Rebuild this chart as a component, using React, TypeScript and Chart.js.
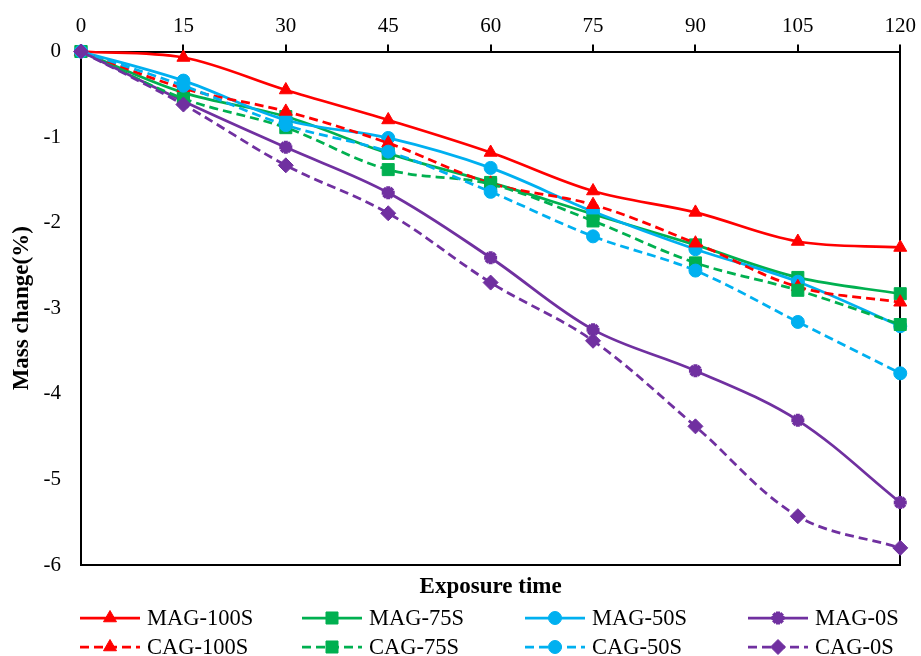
import React, { useEffect, useRef } from "react";
import { Chart, registerables } from "chart.js";
import { drawPoint } from "chart.js/helpers";

Chart.register(...registerables);

// Exposure time (x) and mass change in % (y) for each mix
const exposureTime = [0, 15, 30, 45, 60, 75, 90, 105, 120];
const xTicks = [0, 15, 30, 45, 60, 75, 90, 105, 120];
const yTicks = [0, -1, -2, -3, -4, -5, -6];

const mag100S = [0, -0.07, -0.45, -0.8, -1.18, -1.63, -1.88, -2.22, -2.29];
const mag75S = [0, -0.48, -0.76, -1.19, -1.53, -1.9, -2.26, -2.64, -2.83];
const mag50S = [0, -0.34, -0.8, -1.01, -1.36, -1.87, -2.31, -2.69, -3.21];
const mag0S = [0, -0.58, -1.12, -1.65, -2.41, -3.25, -3.73, -4.31, -5.27];
const cag100S = [0, -0.43, -0.7, -1.07, -1.54, -1.79, -2.24, -2.75, -2.93];
const cag75S = [0, -0.55, -0.89, -1.38, -1.55, -1.98, -2.47, -2.79, -3.19];
const cag50S = [0, -0.4, -0.86, -1.17, -1.64, -2.16, -2.56, -3.16, -3.76];
const cag0S = [0, -0.62, -1.33, -1.89, -2.7, -3.38, -4.38, -5.43, -5.8];

const seriesNames = [
  "MAG-100S",
  "MAG-75S",
  "MAG-50S",
  "MAG-0S",
  "CAG-100S",
  "CAG-75S",
  "CAG-50S",
  "CAG-0S",
];
const seriesValues = [mag100S, mag75S, mag50S, mag0S, cag100S, cag75S, cag50S, cag0S];

const RED = "#FF0000";
const GREEN = "#00B050";
const CYAN = "#00B0F0";
const PURPLE = "#7030A0";
const seriesColors = [RED, GREEN, CYAN, PURPLE, RED, GREEN, CYAN, PURPLE];
const seriesMarkers = ["triangle", "rect", "circle", "star", "triangle", "rect", "circle", "rectRot"];
const markerRadius: Record<string, number> = { triangle: 7.5, rect: 8.5, circle: 6.5, star: 6.5, rectRot: 7.5 };

const SERIF = "'Liberation Serif', 'Times New Roman', serif";
const DASH = [9, 5];

// Legend laid out as two rows of four entries under the axis title
const legendColumns = [80, 302, 525, 748];
const legendRows = [618, 647];
const legendLineLength = 60;
const legendTextGap = 7;

const legendPlugin = {
  id: "lineMarkerLegend",
  afterDraw(chart: any) {
    const ctx = chart.ctx as CanvasRenderingContext2D;
    chart.data.datasets.forEach((ds: any, i: number) => {
      const x0 = legendColumns[i % 4];
      const y = legendRows[Math.floor(i / 4)];
      ctx.save();
      ctx.strokeStyle = ds.borderColor;
      ctx.lineWidth = ds.borderWidth;
      ctx.setLineDash(ds.borderDash || []);
      ctx.beginPath();
      ctx.moveTo(x0, y);
      ctx.lineTo(x0 + legendLineLength, y);
      ctx.stroke();
      ctx.setLineDash([]);
      ctx.fillStyle = ds.pointBackgroundColor;
      ctx.strokeStyle = ds.pointBorderColor;
      ctx.lineWidth = ds.pointBorderWidth;
      drawPoint(
        ctx,
        { pointStyle: ds.pointStyle, radius: ds.pointRadius, rotation: 0, borderWidth: ds.pointBorderWidth },
        x0 + legendLineLength / 2,
        y
      );
      ctx.fillStyle = "#000";
      ctx.font = `22.5px ${SERIF}`;
      ctx.textAlign = "left";
      ctx.textBaseline = "middle";
      ctx.fillText(ds.label, x0 + legendLineLength + legendTextGap, y + 1);
      ctx.restore();
    });
  },
};

export default function App() {
  const canvasRef = useRef<HTMLCanvasElement | null>(null);

  useEffect(() => {
    const canvas = canvasRef.current;
    if (!canvas) return;

    const datasets = seriesNames.map((name, i) => {
      const marker = seriesMarkers[i];
      const dashed = i >= 4;
      return {
        label: name,
        data: exposureTime.map((t, k) => ({ x: t, y: seriesValues[i][k] })),
        borderColor: seriesColors[i],
        backgroundColor: seriesColors[i],
        borderWidth: 2.75,
        borderDash: dashed ? DASH : [],
        tension: 0.35,
        pointStyle: marker,
        pointRadius: markerRadius[marker],
        pointBackgroundColor: seriesColors[i],
        pointBorderColor: seriesColors[i],
        pointBorderWidth: marker === "star" ? 4 : 1,
        clip: false as any,
        order: seriesNames.length - 1 - i,
      };
    });

    const chart = new Chart(canvas, {
      type: "line",
      data: { datasets },
      plugins: [legendPlugin],
      options: {
        responsive: false,
        animation: false,
        events: [],
        layout: { padding: { left: 0, right: 0, top: 0, bottom: 53 } },
        plugins: {
          legend: { display: false },
          tooltip: { enabled: false },
          title: { display: false },
        },
        scales: {
          x: {
            type: "linear",
            position: "top",
            min: 0,
            max: 120,
            afterBuildTicks: (scale: any) => {
              scale.ticks = xTicks.map((v) => ({ value: v }));
            },
            afterFit: (scale: any) => {
              scale.height = 51.5;
            },
            ticks: {
              color: "#000",
              font: { family: SERIF, size: 21 },
              padding: 5,
              maxRotation: 0,
              autoSkip: false,
            },
            grid: {
              display: true,
              drawOnChartArea: false,
              drawTicks: true,
              tickLength: 7,
              color: "#000",
              lineWidth: 2,
            },
            border: { display: true, color: "#000", width: 2 },
          },
          xb: {
            type: "linear",
            position: "bottom",
            min: 0,
            max: 120,
            afterFit: (scale: any) => {
              scale.height = 38;
            },
            ticks: { display: false },
            grid: { display: false, drawTicks: false },
            border: { display: true, color: "#000", width: 2 },
            title: {
              display: true,
              text: "Exposure time",
              color: "#000",
              font: { family: SERIF, size: 23, weight: "bold" },
              padding: { top: 0, bottom: 2 },
            },
          },
          y: {
            type: "linear",
            position: "left",
            min: -6,
            max: 0,
            afterBuildTicks: (scale: any) => {
              scale.ticks = yTicks.map((v) => ({ value: v }));
            },
            afterFit: (scale: any) => {
              scale.width = 81;
            },
            ticks: {
              color: "#000",
              font: { family: SERIF, size: 21 },
              padding: 20,
            },
            grid: { display: false, drawTicks: false },
            border: { display: true, color: "#000", width: 2 },
            title: {
              display: true,
              text: "Mass change(%)",
              color: "#000",
              font: { family: SERIF, size: 23, weight: "bold" },
              padding: { top: 8, bottom: 0 },
            },
          },
          yr: {
            type: "linear",
            position: "right",
            min: -6,
            max: 0,
            afterFit: (scale: any) => {
              scale.width = 19;
            },
            ticks: { display: false },
            grid: { display: false, drawTicks: false },
            border: { display: true, color: "#000", width: 2 },
          },
        },
      },
    } as any);

    return () => chart.destroy();
  }, []);

  return (
    <div style={{ position: "fixed", left: 0, top: 0, width: 921, height: 656, background: "#fff" }}>
      <canvas ref={canvasRef} width={921} height={656} />
    </div>
  );
}
